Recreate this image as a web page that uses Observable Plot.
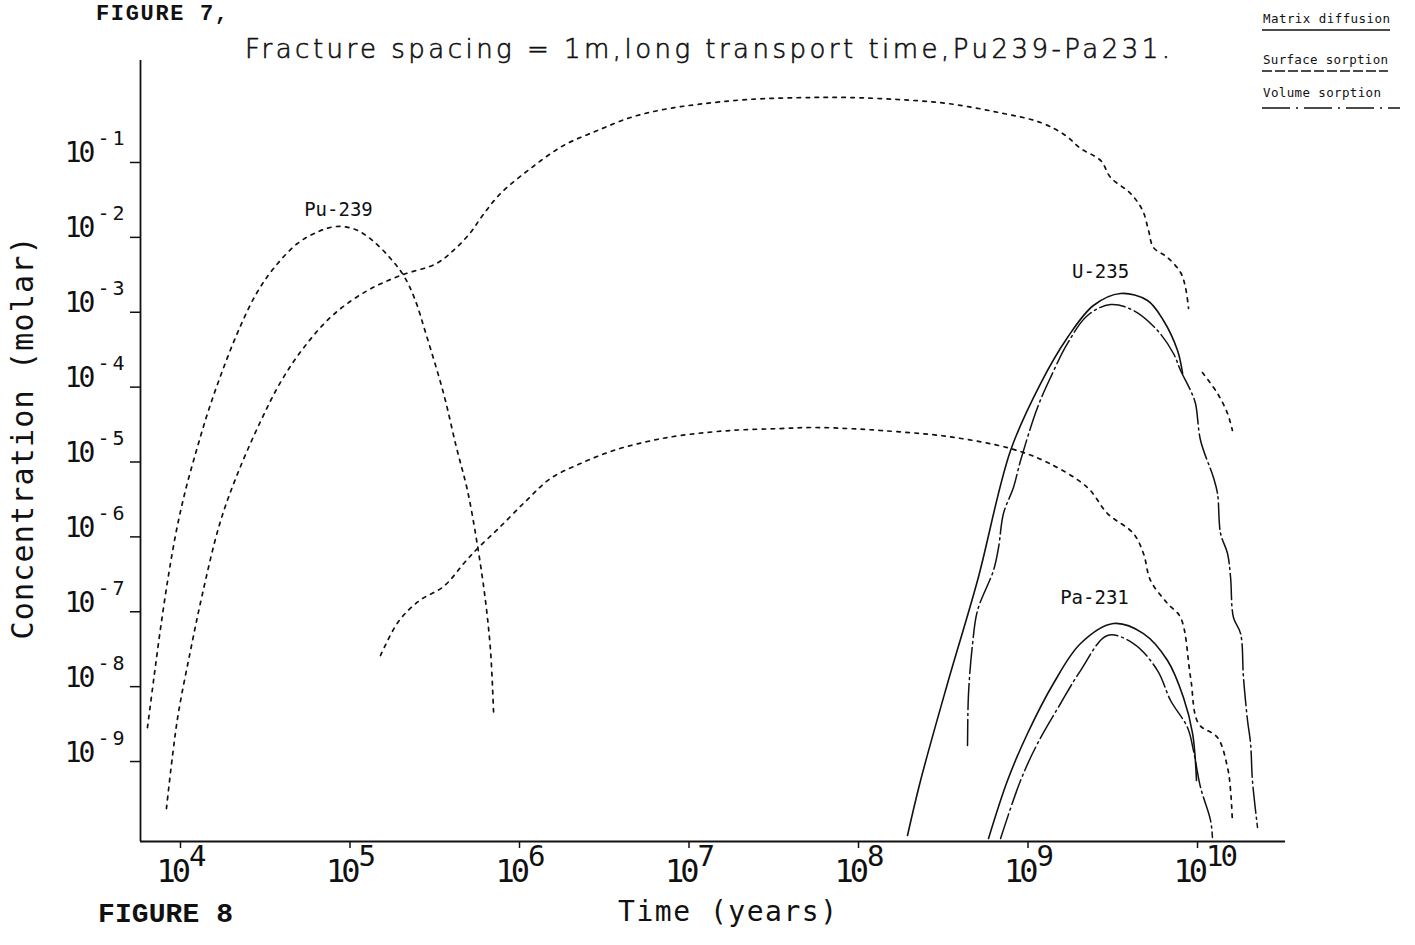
<!DOCTYPE html>
<html>
<head>
<meta charset="utf-8">
<script src="https://cdn.jsdelivr.net/npm/d3@7"></script>
<script src="https://cdn.jsdelivr.net/npm/@observablehq/plot@0.6"></script>
<style>
  html, body { margin: 0; padding: 0; background: #fff; }
  #wrap { position: relative; width: 1415px; height: 945px; overflow: hidden; background: #fff; }
</style>
</head>
<body>
<div id="wrap"></div>
<script>
// ---------- tick values ----------
const xTicks = [1e4, 1e5, 1e6, 1e7, 1e8, 1e9, 1e10];
const yTicks = [1e-1, 1e-2, 1e-3, 1e-4, 1e-5, 1e-6, 1e-7, 1e-8, 1e-9];

// ---------- curve values (log10 of time in years, log10 of molar concentration) ----------
// Pu-239 (dotted)
const pu239LogT = [3.805, 3.841, 3.882, 3.929, 3.976, 4.029, 4.094, 4.165, 4.248, 4.342, 4.448, 4.549, 4.690, 4.814, 4.920, 5.032, 5.133, 5.239, 5.316, 5.381, 5.451, 5.552, 5.628, 5.693, 5.752, 5.799, 5.829, 5.847];
const pu239LogC = [-8.546, -7.918, -7.224, -6.516, -5.915, -5.381, -4.846, -4.312, -3.778, -3.244, -2.750, -2.416, -2.082, -1.922, -1.855, -1.895, -2.042, -2.282, -2.509, -2.816, -3.311, -4.085, -4.806, -5.381, -6.115, -6.850, -7.518, -8.346];

// upper dotted curve (first part)
const upperLogT = [3.917, 3.953, 3.988, 4.059, 4.130, 4.230, 4.330, 4.472, 4.596, 4.737, 4.903, 5.103, 5.298, 5.510, 5.622, 5.711, 5.782, 5.888, 6.065, 6.260, 6.460, 6.655, 6.850, 7.050, 7.345, 7.735, 7.935, 8.230, 8.525, 8.826, 9.074, 9.221, 9.310, 9.428, 9.487, 9.605, 9.676, 9.711, 9.740, 9.823, 9.900, 9.929, 9.947];
const upperLogC = [-9.628, -8.920, -8.346, -7.518, -6.756, -5.835, -5.194, -4.459, -3.912, -3.444, -3.030, -2.710, -2.509, -2.349, -2.149, -1.935, -1.708, -1.414, -1.080, -0.773, -0.573, -0.399, -0.292, -0.225, -0.159, -0.132, -0.132, -0.159, -0.212, -0.332, -0.466, -0.639, -0.813, -0.973, -1.200, -1.414, -1.641, -1.908, -2.135, -2.269, -2.469, -2.669, -2.950];
// upper dotted curve (short piece after the break)
const upperTailLogT = [10.029, 10.118, 10.177, 10.206];
const upperTailLogC = [-3.805, -4.085, -4.352, -4.579];

// lower dotted curve
const lowerLogT = [5.180, 5.286, 5.410, 5.552, 5.676, 5.752, 5.876, 6.041, 6.183, 6.360, 6.555, 6.755, 6.950, 7.245, 7.540, 7.735, 7.935, 8.130, 8.525, 8.897, 9.115, 9.351, 9.469, 9.622, 9.681, 9.723, 9.823, 9.900, 9.959, 10.006, 10.118, 10.177, 10.195, 10.206];
const lowerLogC = [-7.584, -7.130, -6.850, -6.663, -6.342, -6.155, -5.888, -5.514, -5.220, -5.020, -4.846, -4.726, -4.646, -4.579, -4.553, -4.539, -4.553, -4.579, -4.659, -4.820, -5.007, -5.341, -5.688, -5.955, -6.222, -6.583, -6.890, -7.077, -7.878, -8.493, -8.680, -9.080, -9.387, -9.815];

// U-235, matrix diffusion (solid)
const u235MatrixLogT = [8.289, 8.366, 8.525, 8.702, 8.897, 9.074, 9.233, 9.386, 9.546, 9.705, 9.799, 9.882, 9.912];
const u235MatrixLogC = [-9.988, -9.254, -7.958, -6.583, -4.846, -3.952, -3.337, -2.910, -2.750, -2.843, -3.110, -3.511, -3.818];

// U-235, volume sorption (dash-dot)
const u235VolumeLogT = [8.643, 8.649, 8.673, 8.702, 8.796, 8.826, 8.855, 8.914, 8.956, 9.056, 9.133, 9.233, 9.351, 9.487, 9.622, 9.764, 9.858, 9.900, 9.959, 9.988, 10.018, 10.094, 10.118, 10.136, 10.177, 10.195, 10.212, 10.254, 10.271, 10.295, 10.313, 10.324, 10.354];
const u235VolumeLogC = [-8.786, -8.092, -7.424, -6.983, -6.449, -6.142, -5.688, -5.341, -4.980, -4.272, -3.871, -3.417, -3.043, -2.897, -2.977, -3.244, -3.551, -3.778, -4.045, -4.219, -4.713, -5.207, -5.421, -5.955, -6.222, -6.543, -7.077, -7.291, -7.878, -8.452, -8.760, -9.254, -9.881];

// Pa-231, matrix diffusion (solid)
const pa231MatrixLogT = [8.767, 8.879, 8.997, 9.150, 9.310, 9.504, 9.681, 9.823, 9.917, 9.971, 9.994];
const pa231MatrixLogC = [-10.028, -9.254, -8.626, -7.958, -7.424, -7.157, -7.291, -7.651, -8.145, -8.626, -9.254];

// Pa-231, volume sorption (dash-dot)
const pa231VolumeLogT = [8.838, 8.956, 9.056, 9.192, 9.310, 9.469, 9.622, 9.764, 9.841, 9.941, 9.976, 10.018, 10.077, 10.088];
const pa231VolumeLogC = [-10.028, -9.254, -8.760, -8.225, -7.785, -7.317, -7.424, -7.785, -8.185, -8.546, -8.853, -9.347, -9.788, -10.015];

// curve labels
const labelText = ["Pu-239", "U-235", "Pa-231"];
const labelLogT = [4.932, 9.428, 9.392];
const labelLogC = [-1.721, -2.536, -6.890];

// legend entries
const legendNames = ["Matrix diffusion", "Surface sorption", "Volume sorption"];

// ---------- build tables ----------
function rows(seg, logT, logC) {
  return logT.map((lt, i) => ({seg, t: 10 ** lt, c: 10 ** logC[i]}));
}
const dotted = [
  ...rows("pu239", pu239LogT, pu239LogC),
  ...rows("upper", upperLogT, upperLogC),
  ...rows("upperTail", upperTailLogT, upperTailLogC),
  ...rows("lower", lowerLogT, lowerLogC)
];
const solid = [
  ...rows("u235m", u235MatrixLogT, u235MatrixLogC),
  ...rows("pa231m", pa231MatrixLogT, pa231MatrixLogC)
];
const dashdot = [
  ...rows("u235v", u235VolumeLogT, u235VolumeLogC),
  ...rows("pa231v", pa231VolumeLogT, pa231VolumeLogC)
];
const labels = labelText.map((s, i) => ({s, t: 10 ** labelLogT[i], c: 10 ** labelLogC[i]}));

const MONO = "'DejaVu Sans Mono', monospace";
const xDomain = [10 ** 3.764, 10 ** 10.519];
const yDomain = [10 ** -10.068, 10 ** 0.362];
const INK = "#111";

const chart = Plot.plot({
  width: 1415,
  height: 945,
  marginLeft: 140,
  marginRight: 130,
  marginTop: 60,
  marginBottom: 104,
  x: {type: "log", domain: xDomain},
  y: {type: "log", domain: yDomain},
  style: {background: "white", color: INK, fontFamily: MONO},
  marks: [
    Plot.ruleX([xDomain[0]], {stroke: INK, strokeWidth: 1.8}),
    Plot.ruleY([yDomain[0]], {stroke: INK, strokeWidth: 2}),
    Plot.axisX({ticks: xTicks, tickSize: 7, tickPadding: 11, strokeWidth: 1.5, label: null,
      tickFormat: d => String(Math.round(Math.log10(d)))}),
    Plot.axisY({ticks: yTicks, tickSize: 10, tickPadding: 3, strokeWidth: 1.5, label: null,
      tickFormat: d => String(Math.round(Math.log10(d)))}),
    Plot.line(dotted, {x: "t", y: "c", z: "seg", stroke: INK, strokeWidth: 1.7,
      strokeDasharray: "3.5,5.5", curve: "catmull-rom"}),
    Plot.line(solid, {x: "t", y: "c", z: "seg", stroke: INK, strokeWidth: 1.6, curve: "catmull-rom"}),
    Plot.line(dashdot, {x: "t", y: "c", z: "seg", stroke: INK, strokeWidth: 1.5,
      strokeDasharray: "26,4,2,4", curve: "catmull-rom"}),
    Plot.text(labels, {x: "t", y: "c", text: "s", lineAnchor: "bottom", textAnchor: "middle",
      fontSize: 19, fontFamily: MONO, fill: INK})
  ]
});
document.getElementById("wrap").appendChild(chart);

// ---------- tick labels as 10^n ----------
const svg = d3.select(chart);
svg.selectAll('g[aria-label="x-axis tick label"] text').each(function () {
  const e = this.textContent;
  const t = d3.select(this);
  t.text(null)
    .attr("text-anchor", "start")
    .style("font-size", "32px").style("font-family", MONO).style("letter-spacing", "-4px");
  t.append("tspan").attr("dx", -24).text("10");
  t.append("tspan").attr("dy", -16).attr("dx", 2).style("font-size", "29px").style("letter-spacing", "-3px").text(e);
});
svg.selectAll('g[aria-label="y-axis tick label"] text').each(function () {
  const e = this.textContent.replace("−", "-");
  const t = d3.select(this);
  t.text(null).attr("y", "0")
    .style("font-size", "28px").style("font-family", MONO).style("letter-spacing", "-3px");
  t.append("tspan").text("10");
  t.append("tspan").attr("dy", -17).attr("dx", 5).style("font-size", "20px").style("letter-spacing", "3px").text(e);
});

// ---------- titles, axis names, legend ----------
const ann = svg.append("g").attr("fill", INK).attr("text-anchor", "start");
ann.append("text").attr("x", 96).attr("y", 20).attr("textLength", 132).attr("lengthAdjust", "spacing")
  .style("font-family", "'Liberation Mono', monospace").style("font-weight", "bold").style("font-size", "22px")
  .text("FIGURE 7,");
ann.append("text").attr("x", 245).attr("y", 58).attr("textLength", 925).attr("lengthAdjust", "spacing")
  .attr("stroke", INK).attr("stroke-width", 0.6)
  .style("font-family", "'DejaVu Sans', sans-serif").style("font-weight", "200").style("font-size", "26px")
  .text("Fracture spacing = 1m,long transport time,Pu239-Pa231.");
ann.append("text").attr("transform", "translate(33,438) rotate(-90)").attr("text-anchor", "middle")
  .attr("textLength", 403).attr("lengthAdjust", "spacing")
  .style("font-family", MONO).style("font-size", "30px")
  .text("Concentration (molar)");
ann.append("text").attr("x", 618).attr("y", 921).attr("textLength", 219).attr("lengthAdjust", "spacing")
  .style("font-family", MONO).style("font-size", "28px")
  .text("Time (years)");
ann.append("text").attr("x", 98).attr("y", 922).attr("textLength", 135).attr("lengthAdjust", "spacing")
  .style("font-family", "'Liberation Mono', monospace").style("font-weight", "bold").style("font-size", "28px")
  .text("FIGURE 8");

const legY = [23, 64, 97];
const legLen = [127, 125, 118];
const lineY = [30, 71, 108];
const lineX2 = [1390, 1388, 1400];
const lineDash = [null, "10,3", "28,6,2,6"];
legendNames.forEach((name, i) => {
  ann.append("text").attr("x", 1263).attr("y", legY[i]).attr("textLength", legLen[i]).attr("lengthAdjust", "spacing")
    .style("font-family", MONO).style("font-size", "12.5px").text(name);
  ann.append("line").attr("x1", 1262).attr("x2", lineX2[i]).attr("y1", lineY[i]).attr("y2", lineY[i])
    .attr("stroke", INK).attr("stroke-width", 1.6).attr("stroke-dasharray", lineDash[i]);
});
</script>
</body>
</html>
